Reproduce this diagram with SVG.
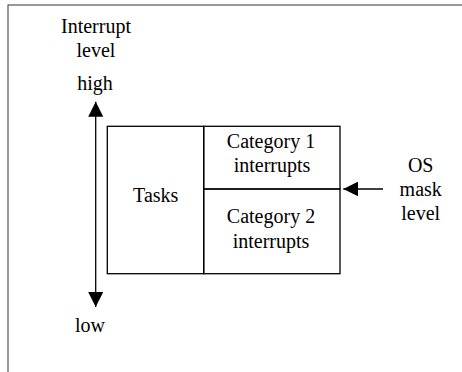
<svg xmlns="http://www.w3.org/2000/svg" width="462" height="372" viewBox="0 0 462 372">
<style>
text{font-family:"Liberation Serif","Times New Roman",serif;font-size:20px;fill:#000;text-anchor:middle}
.box{fill:none;stroke:#000;stroke-width:1.3}
.ln{stroke:#000;stroke-width:1.3;fill:none}
</style>
<defs>
<marker id="ah" viewBox="0 0 10 10" refX="10" refY="5" markerWidth="15" markerHeight="15" markerUnits="userSpaceOnUse" orient="auto-start-reverse">
<path d="M0,0 L10,5 L0,10 z" fill="#000"/>
</marker>
</defs>
<rect x="8" y="5" width="470" height="380" fill="#fff" stroke="#333" stroke-width="1"/>
<g id="axis-labels">
<text x="96" y="33">Interrupt</text>
<text x="96" y="57">level</text>
<text x="95" y="90">high</text>
<text x="90" y="332">low</text>
</g>
<g id="tasks">
<rect class="box" x="107.3" y="126.3" width="96.4" height="147.4"/>
<text x="155.7" y="202">Tasks</text>
</g>
<g id="cat1">
<rect class="box" x="203.7" y="126.3" width="136.3" height="62.7"/>
<text x="271" y="148">Category 1</text>
<text x="272" y="172">interrupts</text>
</g>
<g id="cat2">
<rect class="box" x="203.7" y="189" width="136.3" height="84.7"/>
<text x="271" y="223">Category 2</text>
<text x="271" y="247.5">interrupts</text>
</g>
<g id="os-mask">
<text x="420.7" y="172">OS</text>
<text x="420.7" y="196">mask</text>
<text x="420.7" y="220">level</text>
</g>
<g id="connectors">
<line class="ln" x1="95.7" y1="200" x2="95.7" y2="101.7" marker-end="url(#ah)"/>
<line class="ln" x1="95.7" y1="200" x2="95.7" y2="307" marker-end="url(#ah)"/>
<line class="ln" x1="383" y1="189" x2="343.3" y2="189" marker-end="url(#ah)"/>
</g>
</svg>
